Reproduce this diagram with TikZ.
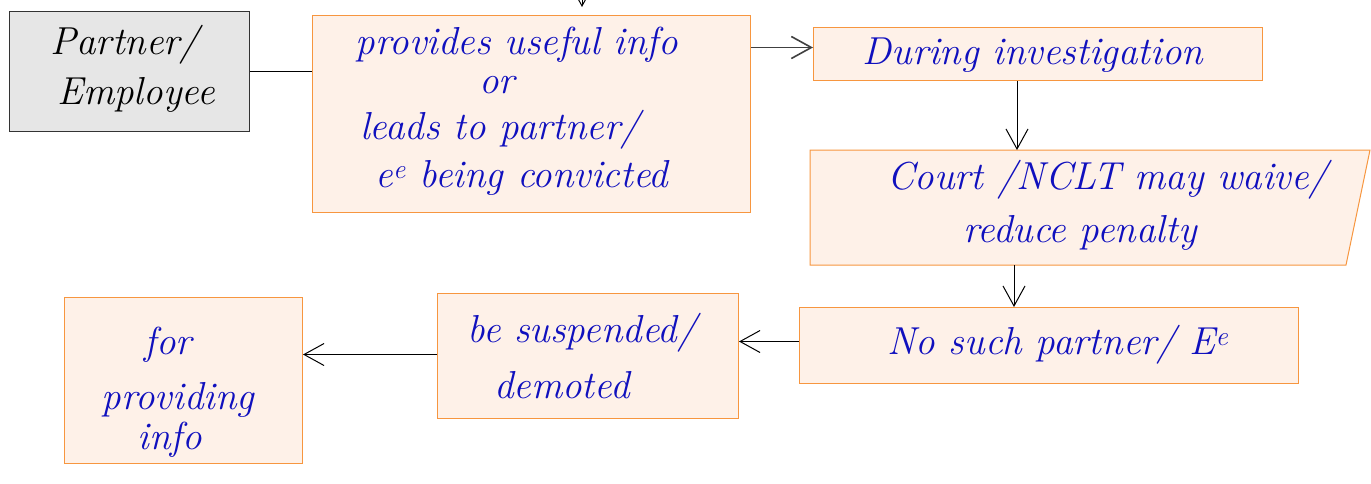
\documentclass[tikz,border=0pt]{standalone}
\usetikzlibrary{arrows.meta,calc}
\definecolor{hand}{HTML}{1010BE}
\definecolor{boxorange}{HTML}{F7963F}
\definecolor{boxfill}{HTML}{FEF1E8}
\definecolor{pegray}{HTML}{E6E6E6}
\begin{document}
\begin{tikzpicture}[x=1pt,y=-1pt,
  box/.style={draw=boxorange, fill=boxfill, line width=1pt, inner sep=0pt, anchor=north west},
  pebox/.style={draw=black!80, fill=pegray, line width=1pt, inner sep=0pt, anchor=north west},
  txt/.style={text=hand, font=\fontsize{39}{44}\selectfont\itshape, inner sep=0pt},
  petxt/.style={txt, text=black},
  arr/.style={-{Straight Barb[length=20pt,width=22pt]}, line width=1pt, black},
  conn/.style={line width=0.8pt, black}]
\useasboundingbox (0,0) rectangle (1371,483);

% boxes
\node[pebox, minimum width=240pt, minimum height=120pt] (pe) at (9,11) {};
\node[box, minimum width=438pt, minimum height=197pt] (prov) at (312,15) {};
\node[box, minimum width=449pt, minimum height=53pt] (during) at (813,27) {};
\filldraw[draw=boxorange, fill=boxfill, line width=1pt] (810,150) -- (1370,150) -- (1346,265) -- (810,265) -- cycle;
\node[inner sep=0pt, minimum width=560pt, minimum height=115pt, anchor=north west] (court) at (810,150) {};
\node[box, minimum width=499pt, minimum height=76pt] (nosuch) at (799,307) {};
\node[box, minimum width=301pt, minimum height=125pt] (susp) at (437,293) {};
\node[box, minimum width=238pt, minimum height=166pt] (forinfo) at (64,297) {};

% texts
\node[petxt] (pe1) at (125,45) {Partner/};
\node[petxt] (pe2) at (136,95) {Employee};

\node[txt] (p1) at (517,45) {provides useful info};
\node[txt] (p2) at (497,85) {or};
\node[txt] (p3) at (500,130) {leads to partner/};
\node[txt] (p4) at (522,178) {e\textsuperscript{e} being convicted};

\node[txt] (d1) at (1033,55) {During investigation};

\node[txt] (c1) at (1108,180) {Court /NCLT may waive/};
\node[txt] (c2) at (1080,233) {reduce penalty};

\node[txt] (n1) at (1058,345) {No such partner/ E\textsuperscript{e}};

\node[txt] (s1) at (582,333) {be suspended/};
\node[txt] (s2) at (562,385) {demoted};

\node[txt] (f1) at (168,345) {for};
\node[txt] (f2) at (178,400) {providing};
\node[txt] (f3) at (170,440) {info};

% connectors
\coordinate (topin) at (582,-20);
\coordinate (topend) at (582,7);
\begin{scope}
\clip (0,0) rectangle (1371,483);
\draw[arr] (topin) -- (topend);
\end{scope}
\draw[conn] (pe.east) -- (pe.east -| prov.west);
\draw[arr, line width=1.6pt, black!75] ([yshift=6.5pt]during.west -| prov.east) -- ([yshift=6.5pt]during.west);
\draw[arr] ([xshift=-21pt]during.south) -- ([xshift=-21pt]during.south |- court.north);
\draw[arr] ([xshift=-35pt]nosuch.north |- court.south) -- ([xshift=-35pt]nosuch.north);
\draw[arr] ([yshift=4pt]nosuch.west) -- ([yshift=4pt]nosuch.west -| susp.east);
\draw[arr] ([yshift=1.5pt]susp.west) -- ([yshift=1.5pt]susp.west -| forinfo.east);
\end{tikzpicture}
\end{document}
